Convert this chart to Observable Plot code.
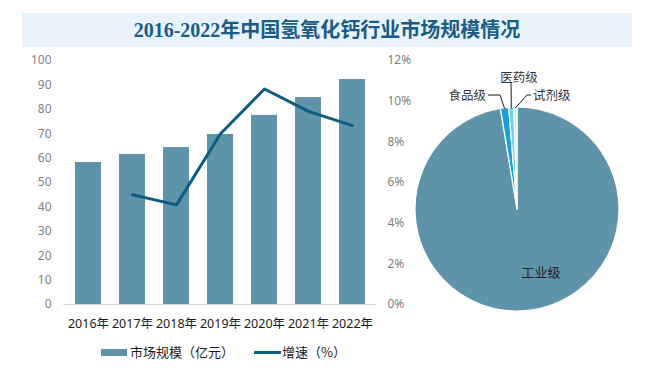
<!DOCTYPE html>
<html><head><meta charset="utf-8">
<script src="https://cdn.jsdelivr.net/npm/d3@7"></script>
<script src="https://cdn.jsdelivr.net/npm/@observablehq/plot@0.6"></script>
<style>
body{margin:0;background:#fff;width:653px;height:373px;position:relative;overflow:hidden;font-family:"Noto Sans","Noto Sans CJK SC",sans-serif;}
#title{position:absolute;left:22px;top:13px;width:610px;height:34px;background:#e8f3fb;color:#1b5b87;font-weight:bold;font-size:20px;font-family:"Liberation Serif","Noto Sans CJK SC",serif;text-align:center;line-height:34px;}
.layer{position:absolute;top:50px;left:0;}
#pie{left:400px;}
.legend{position:absolute;font-size:13px;color:#1a1a1a;line-height:14px;font-family:"Noto Sans CJK SC",sans-serif;}
.sw{position:absolute;}
#bars [aria-label="x-axis tick label"]{fill:#1a1a1a;}
</style></head>
<body>
<div id="title">2016-2022年中国氢氧化钙行业市场规模情况</div>
<div id="bars" class="layer"></div>
<div id="line" class="layer"></div>
<div id="pie" class="layer"></div>
<div class="sw" style="left:101px;top:349px;width:26px;height:7px;background:#5e93a9"></div>
<div class="legend" style="left:130px;top:345px">市场规模（亿元）</div>
<div class="sw" style="left:254px;top:351px;width:27px;height:3px;background:#0e5d7e"></div>
<div class="legend" style="left:282px;top:345px">增速（%）</div>
<script>
const years = ["2016","2017","2018","2019","2020","2021","2022"];
const marketSize = [58.2, 61.5, 64.3, 69.7, 77.5, 84.8, 92.2];
const growthRate = [null, 5.4, 4.9, 8.4, 10.6, 9.5, 8.8];
const leftTicks = [0,10,20,30,40,50,60,70,80,90,100];
const rightTicks = [0,2,4,6,8,10,12];
const grades = ["工业级","食品级","医药级","试剂级"];
const gradeShare = [97.4, 1.3, 0.8, 0.5];

const barColor = "#5e93a9", lineColor = "#0e5d7e";
const pieColors = ["#5e93a9","#1aa0d8","#6fcff2","#c6e8f5"];
const font = '"Noto Sans","Noto Sans CJK SC",sans-serif';

const barData = years.map((y,i)=>({year:y, value:marketSize[i]}));
const lineData = years.map((y,i)=>({year:y, value:growthRate[i]})).filter(d=>d.value!=null);

const common = {
  width:410, height:284, marginLeft:63, marginRight:34, marginTop:10, marginBottom:30,
  x:{domain:years, paddingInner:0.42, paddingOuter:0.21},
  style:{background:"transparent", fontFamily:font, fontSize:"12px", color:"#7f7f7f", overflow:"visible"}
};

const bars = Plot.plot({
  ...common,
  y:{domain:[0,100]},
  marks:[
    Plot.barY(barData,{x:"year", y:"value", fill:barColor}),
    Plot.ruleY([0],{stroke:"#d9d9d9"}),
    Plot.axisY({ticks:leftTicks, tickSize:0, tickPadding:12, label:null, fontSize:12}),
    Plot.axisX({tickSize:0, tickPadding:15, tickFormat:d=>d+"年", label:null, fontSize:12.5, fill:"#1a1a1a"})
  ]
});
document.getElementById("bars").appendChild(bars);

const line = Plot.plot({
  ...common,
  x:{...common.x, axis:null},
  y:{domain:[0,12]},
  marks:[
    Plot.line(lineData,{x:"year", y:"value", stroke:lineColor, strokeWidth:3, strokeLinejoin:"round"}),
    Plot.axisY({anchor:"right", ticks:rightTicks, tickSize:0, tickPadding:11, tickFormat:d=>d+"%", label:null, fontSize:12})
  ]
});
document.getElementById("line").appendChild(line);

// pie layout
const cx = 117, cy = 159, R = 102;
const labelLayout = {
  "工业级":{text:[24,63], anchor:"middle"},
  "食品级":{elbow:[-17,-114], end:[-29,-114], text:[-31,-114], anchor:"end"},
  "医药级":{elbow:[-6,-126], end:[-6,-126], text:[2,-132], anchor:"middle"},
  "试剂级":{elbow:[10,-114], end:[14,-114], text:[16,-114], anchor:"start"}
};
const pieData = grades.map((g,i)=>({grade:g, share:gradeShare[i]}));

const pie = Plot.plot({
  width:253, height:280, margin:0,
  x:{axis:null}, y:{axis:null},
  color:{domain:grades, range:pieColors},
  style:{background:"transparent", overflow:"visible", fontFamily:font},
  marks:[
    Plot.dot(pieData,{fill:"grade", r:0}),
    (index, scales) => {
      const color = scales.color || d3.scaleOrdinal(grades, pieColors);
      const arcs = d3.pie().sort(null).value(d=>d.share)(pieData);
      const arc = d3.arc().innerRadius(0).outerRadius(R);
      const g = d3.create("svg:g").attr("transform",`translate(${cx},${cy})`);
      g.selectAll("path.slice").data(arcs).join("path")
        .attr("d",arc).attr("fill",d=>color(d.data.grade))
        .attr("stroke","#fff").attr("stroke-width",1.2).attr("stroke-linejoin","round");
      for (const a of arcs) {
        const L = labelLayout[a.data.grade];
        if (L.elbow) {
          const m = (a.startAngle + a.endAngle)/2;
          const ex = (R-1)*Math.sin(m), ey = -(R-1)*Math.cos(m);
          g.append("polyline").attr("points",[[ex,ey],L.elbow,L.end].map(p=>p.join(",")).join(" "))
            .attr("fill","none").attr("stroke","#1a1a1a").attr("stroke-width",1);
        }
        g.append("text").attr("x",L.text[0]).attr("y",L.text[1])
          .attr("text-anchor",L.anchor).attr("dominant-baseline","central")
          .attr("font-size",a.data.grade==="工业级"?13:12.5)
          .attr("fill",a.data.grade==="工业级"?"#222":"#333")
          .text(a.data.grade);
      }
      return g.node();
    }
  ]
});
document.getElementById("pie").appendChild(pie);
</script>
</body></html>
